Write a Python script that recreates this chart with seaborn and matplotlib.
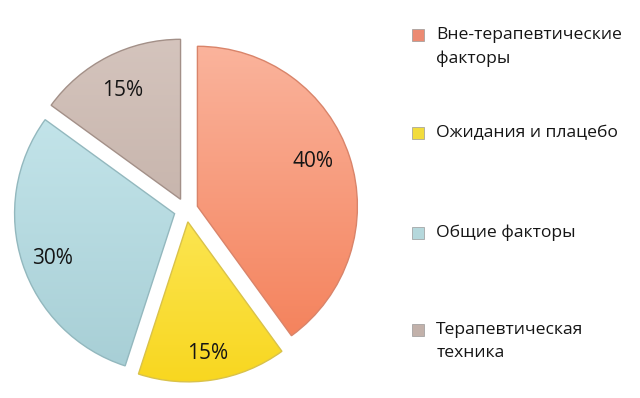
import numpy as np
import matplotlib
matplotlib.use('Agg')
import matplotlib.pyplot as plt
import seaborn as sns
from matplotlib.lines import Line2D
from matplotlib.colors import to_rgb

sns.set_theme(style='white')
plt.rcParams['font.family'] = ['Open Sans', 'DejaVu Sans']

# data
labels = ['Вне-терапевтические\nфакторы', 'Ожидания и плацебо',
          'Общие факторы', 'Терапевтическая\nтехника']
shares = [40, 15, 30, 15]
# gradient colours per slice (top, bottom)
top_colors = ['#fbb8a2', '#fff78e', '#cdecf1', '#d6c6bf']
bottom_colors = ['#f3784f', '#f8d51a', '#a4ccd3', '#b8a399']
edge_colors = ['#d9846a', '#d9c24a', '#93b8be', '#a39088']
legend_colors = ['#ec8a72', '#f2dc3c', '#b5d8dc', '#c2b1aa']

fig = plt.figure(figsize=(6.4, 3.98), dpi=100)
ax = fig.add_axes([2 / 640, 4 / 398, 368 / 640, 368 / 398])

mid = [np.mean([to_rgb(a), to_rgb(b)], axis=0) for a, b in zip(top_colors, bottom_colors)]
wedges, texts, autotexts = ax.pie(
    shares, startangle=90, counterclock=False, explode=[0.075] * 4,
    colors=mid, autopct='%d%%', pctdistance=0.8,
    wedgeprops=dict(linewidth=1.0), textprops=dict(fontsize=15, color='#151515'))

# vertical gradient fill clipped to each wedge
for w, ct, cb, ce in zip(wedges, top_colors, bottom_colors, edge_colors):
    t = np.linspace(0, 1, 256)[:, None]
    grad = (1 - t) * np.array(to_rgb(ct)) + t * np.array(to_rgb(cb))
    grad = np.repeat(grad[:, None, :], 2, axis=1)
    im = ax.imshow(grad, extent=[-1.2, 1.2, -1.2, 1.2], origin='upper',
                   aspect='auto', zorder=2, interpolation='bilinear')
    im.set_clip_path(w)
    w.set_facecolor('none')
    w.set_edgecolor(ce)
    w.set_zorder(3)

# small nudges of the percent labels
nudges = [(-0.04, 0.03), (0, -0.03), (0, -0.03), (0, -0.03)]
for t, (dx, dy) in zip(autotexts, nudges):
    t.set_zorder(4)
    x, y = t.get_position()
    t.set_position((x + dx, y + dy))

ax.set_xlim(-1.15, 1.15)
ax.set_ylim(-1.15, 1.15)
ax.set_aspect('equal')
ax.axis('off')

# legend, one entry per block, marker aligned to first line
tops = [27, 125, 225, 322]
for lab, col, y in zip(labels, legend_colors, tops):
    h = Line2D([], [], marker='s', linestyle='', markersize=8,
               markerfacecolor=col, markeredgecolor='#999999', markeredgewidth=0.5)
    leg = fig.legend(handles=[h], labels=[lab], loc='upper left',
                     bbox_to_anchor=(410 / 640, 1 - y / 398), frameon=False,
                     fontsize=12.6, handlelength=0.9, handleheight=1.3,
                     handletextpad=0.6, borderpad=0, borderaxespad=0)
    for txt in leg.get_texts():
        txt.set_linespacing(1.6)
        txt.set_color('#151515')
    for col_box in leg._legend_handle_box.get_children():
        for item in col_box.get_children():
            item.align = 'top'

fig.savefig('out.png', dpi=100)
